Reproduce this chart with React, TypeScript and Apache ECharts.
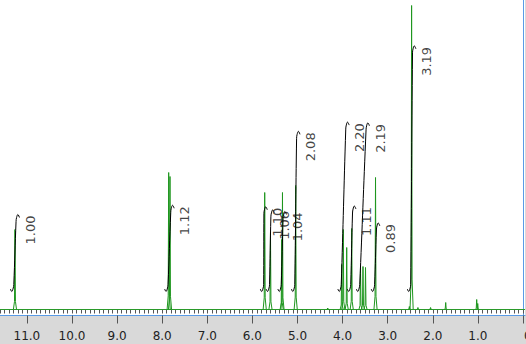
import React, { useEffect, useRef } from 'react';
import * as echarts from 'echarts';

// Peak list (chemical shift in ppm, height in plot units)
const peakPpm = [11.264, 7.856, 7.827, 5.727, 5.599, 5.35, 5.333, 5.04, 4.33, 4.02, 3.985, 3.909, 3.798, 3.603, 3.548, 3.492, 3.27, 2.52, 2.47, 2.33, 2.05, 1.714, 1.027, 1.004];
const peakHeight = [80, 137, 133, 117, 77, 70, 117, 124, 1.5, 45, 80, 62, 81, 42, 43, 42, 132, 3, 304, 2, 2, 7, 10, 6];

// Integral regions (start ppm, end ppm, integral value)
const integralFrom = [11.29, 7.87, 5.75, 5.62, 5.36, 5.06, 4.03, 3.82, 3.62, 3.29, 2.49];
const integralTo = [11.24, 7.81, 5.745, 5.59, 5.32, 5.02, 3.93, 3.78, 3.48, 3.25, 2.45];
const integralValue = [1.0, 1.12, 1.1, 1.06, 1.04, 2.08, 2.2, 1.11, 2.19, 0.89, 3.19];

// Axis ticks
const majorTicks = [0, 1, 2, 3, 4, 5, 6, 7, 8, 9, 10, 11];

const X_MIN = -0.044;
const X_MAX = 11.618;
const PX_PER_PPM = 45.1;
const INT_BASE = 18;
const INT_SCALE = 77;

export default function App() {
  const ref = useRef<HTMLDivElement>(null);

  useEffect(() => {
    const chart = echarts.init(ref.current!, null, { renderer: 'svg' });

    const minorTicks: number[] = [];
    for (let i = 0; i <= 116; i++) minorTicks.push(i / 10);

    const w = 0.035;
    const spec: any[] = [];
    peakPpm.forEach((p, i) => {
      const h = peakHeight[i];
      spec.push([p + w, 0], [p + w * 0.3, h * 0.1], [p, h], [p - w * 0.3, h * 0.1], [p - w, 0], [p, '-']);
    });

    const integralSeries = integralFrom.map((f, i) => {
      const t = integralTo[i];
      const T = INT_BASE + INT_SCALE * integralValue[i];
      const B = INT_BASE;
      return {
        type: 'line',
        data: [
          [f + 0.075, B + 2.5],
          [f + 0.045, B],
          [f + 0.012, B + 3.5],
          [f, B + 7],
          [t, T - 7],
          [t - 0.012, T - 3],
          [t - 0.04, T],
          [t - 0.075, T - 3],
        ],
        smooth: 0.4,
        showSymbol: false,
        symbol: 'none',
        lineStyle: { color: '#000', width: 1 },
        z: 4,
        silent: true,
      };
    });

    const labelData = integralTo.map((t, i) => [
      t - 14 / PX_PER_PPM,
      INT_BASE + INT_SCALE * integralValue[i] - 1,
      integralValue[i],
    ]);

    const option: any = {
      animation: false,
      backgroundColor: '#d9d9d9',
      grid: {
        left: -1,
        right: 1,
        top: -1,
        bottom: 28.5,
        show: true,
        backgroundColor: '#ffffff',
        borderWidth: 0,
        containLabel: false,
        outerBoundsMode: 'none',
      },
      xAxis: [
        {
          type: 'value',
          inverse: true,
          min: X_MIN,
          max: X_MAX,
          position: 'bottom',
          axisLine: { show: true, onZero: false, lineStyle: { color: '#5a9be6', width: 1 } },
          axisTick: { show: true, customValues: majorTicks, length: 8, lineStyle: { color: '#555' } },
          axisLabel: {
            show: true,
            customValues: majorTicks,
            margin: 14,
            color: '#222',
            fontSize: 12,
            fontFamily: 'DejaVu Sans',
            hideOverlap: false,
            formatter: (v: number) => (v === 0 ? '{z|0.0}' : v.toFixed(1)),
            rich: {
              z: { padding: [0, 0, 0, 21], color: '#222', fontSize: 12, fontFamily: 'DejaVu Sans' },
            },
          },
          splitLine: { show: false },
        },
        {
          type: 'value',
          inverse: true,
          min: X_MIN,
          max: X_MAX,
          position: 'bottom',
          axisLine: { show: false },
          axisTick: { show: true, customValues: minorTicks, length: 4, lineStyle: { color: '#555' } },
          axisLabel: { show: false },
          splitLine: { show: false },
        },
      ],
      yAxis: {
        type: 'value',
        min: -6,
        max: 310.5,
        position: 'right',
        axisLine: { show: true, lineStyle: { color: '#5a9be6', width: 1 } },
        axisTick: { show: false },
        axisLabel: { show: false },
        splitLine: { show: false },
      },
      series: [
        {
          type: 'line',
          data: [[X_MAX, 0], [X_MIN, 0]],
          showSymbol: false,
          symbol: 'none',
          lineStyle: { color: '#2a9a2a', width: 1 },
          z: 2,
          silent: true,
        },
        {
          type: 'line',
          data: spec,
          showSymbol: false,
          symbol: 'none',
          connectNulls: false,
          lineStyle: { color: '#1e961e', width: 1 },
          z: 3,
          silent: true,
        },
        ...integralSeries,
        {
          type: 'scatter',
          data: labelData,
          symbolSize: 1,
          itemStyle: { color: 'rgba(0,0,0,0)' },
          z: 5,
          silent: true,
          label: {
            show: true,
            position: 'inside',
            rotate: 90,
            align: 'right',
            verticalAlign: 'middle',
            fontSize: 13,
            fontFamily: 'DejaVu Sans',
            color: '#111',
            formatter: (p: any) => p.value[2].toFixed(2),
          },
        },
      ],
    };

    chart.setOption(option);
    return () => chart.dispose();
  }, []);

  return (
    <div
      ref={ref}
      style={{ position: 'absolute', left: 0, top: 0, width: 526, height: 344 }}
    />
  );
}
